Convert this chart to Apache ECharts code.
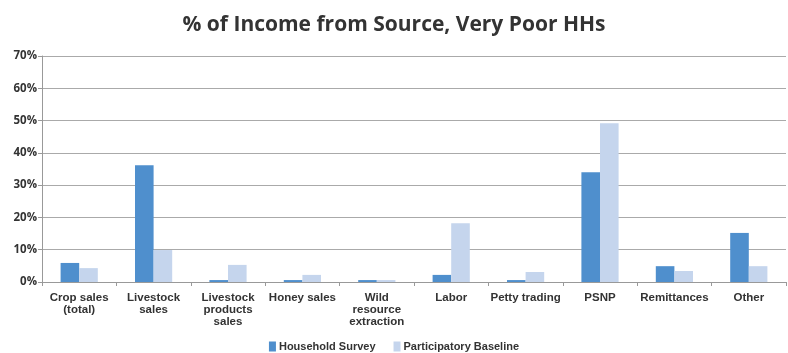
<!DOCTYPE html>
<html><head><meta charset="utf-8">
<script src="https://cdn.jsdelivr.net/npm/echarts@6/dist/echarts.min.js"></script>
<style>html,body{margin:0;padding:0;background:#fff}#c{width:788px;height:353px}</style>
</head><body><div id="c"></div>
<script>
const categories = ['Crop sales\n(total)','Livestock\nsales','Livestock\nproducts\nsales','Honey sales','Wild\nresource\nextraction','Labor','Petty trading','PSNP','Remittances','Other'];
const householdSurvey = [5.9, 36.2, 0.6, 0.6, 0.6, 2.2, 0.6, 34.0, 4.9, 15.2];
const participatoryBaseline = [4.3, 9.9, 5.3, 2.2, 0.6, 18.2, 3.1, 49.2, 3.4, 4.9];
const yTicks = [0, 10, 20, 30, 40, 50, 60, 70];

const chart = echarts.init(document.getElementById('c'));
const font = 'Liberation Sans Narrow, Arial Narrow, sans-serif';
chart.setOption({
  animation: false,
  title: {text: '% of Income from Source, Very Poor HHs', left: 'center', top: 10,
    textStyle: {fontFamily: 'Open Sans, sans-serif', fontWeight: 'bold', fontSize: 21, color: '#333'}},
  grid: {left: 42, right: 2, top: 56, bottom: 71, containLabel: false},
  legend: {bottom: -4, left: 'center', icon: 'rect', itemWidth: 7, itemHeight: 10, itemGap: 18, itemStyle: {borderWidth: 0},
    textStyle: {fontFamily: font, fontWeight: 'bold', fontSize: 11, color: '#333', padding: [0, 0, 0, -2]},
    data: ['Household Survey', 'Participatory Baseline']},
  xAxis: {type: 'category', data: categories,
    axisLine: {lineStyle: {color: '#999'}},
    axisTick: {show: true, length: 4, lineStyle: {color: '#999'}},
    axisLabel: {interval: 0, fontFamily: font, fontWeight: 'bold', fontSize: 11.5, color: '#333', lineHeight: 12, margin: 10}},
  yAxis: {type: 'value', min: 0, max: 70, interval: 10,
    axisLine: {show: true, lineStyle: {color: '#999'}},
    axisTick: {show: true, length: 4, lineStyle: {color: '#999'}},
    splitLine: {lineStyle: {color: '#aaa', width: 1}},
    axisLabel: {fontFamily: 'Open Sans, sans-serif', fontWeight: 'bold', fontSize: 11.5, color: '#333', margin: 5,
      formatter: v => yTicks.includes(v) ? v + '%' : ''}},
  series: [
    {name: 'Household Survey', type: 'bar', data: householdSurvey, barGap: '0%', barCategoryGap: '50%',
      itemStyle: {color: '#4f8fcd'}},
    {name: 'Participatory Baseline', type: 'bar', data: participatoryBaseline,
      itemStyle: {color: '#c5d5ed'}}
  ]
});
</script></body></html>
